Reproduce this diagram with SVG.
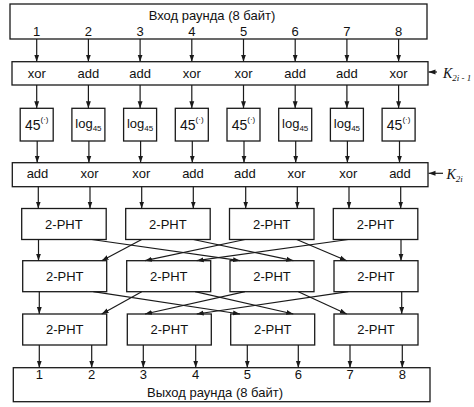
<svg xmlns="http://www.w3.org/2000/svg" width="474" height="407" viewBox="0 0 474 407">
<defs>
<marker id="ah" viewBox="0 0 10 10" refX="10" refY="5" markerWidth="7" markerHeight="7" markerUnits="userSpaceOnUse" orient="auto">
<path d="M0,1.5 L10,5 L0,8.5 z" fill="#1a1a1a"/>
</marker>
<style>
.box{fill:#fff;stroke:#1a1a1a;stroke-width:1.3}
.ln{stroke:#1a1a1a;stroke-width:1.2;fill:none}
.ar{stroke:#1a1a1a;stroke-width:1.2;fill:none;marker-end:url(#ah)}
.t{font-family:"Liberation Sans",Arial,sans-serif;font-size:13px;fill:#111;text-anchor:middle}
.f{font-size:14px}
.k{font-family:"Liberation Serif","Times New Roman",serif;font-style:italic;font-size:14px;fill:#111}
</style>
</defs>
<rect width="474" height="407" fill="#fff"/>

<g id="input">
<rect class="box" x="10" y="4" width="417" height="35"/>
<text class="t" x="212" y="20">Вход раунда (8 байт)</text>
<text class="t" x="36.7" y="35.5">1</text>
<text class="t" x="88.4" y="35.5">2</text>
<text class="t" x="140.1" y="35.5">3</text>
<text class="t" x="191.8" y="35.5">4</text>
<text class="t" x="243.5" y="35.5">5</text>
<text class="t" x="295.2" y="35.5">6</text>
<text class="t" x="346.9" y="35.5">7</text>
<text class="t" x="398.6" y="35.5">8</text>
</g>

<g id="keymix1">
<rect class="box" x="12" y="61.7" width="416" height="23.3"/>
<text class="t" x="36.7" y="78.3">xor</text>
<text class="t" x="88.4" y="78.3">add</text>
<text class="t" x="140.1" y="78.3">add</text>
<text class="t" x="191.8" y="78.3">xor</text>
<text class="t" x="243.5" y="78.3">xor</text>
<text class="t" x="295.2" y="78.3">add</text>
<text class="t" x="346.9" y="78.3">add</text>
<text class="t" x="398.6" y="78.3">xor</text>
</g>
<g id="key1">
<text class="k" x="443" y="77.5">K<tspan dy="3" font-size="9">2i - 1</tspan></text>
</g>

<g id="sbox1"><rect class="box" x="20.2" y="108.3" width="33" height="32.7"/><text class="t f" x="36.7" y="129.5">45<tspan dy="-7.5" font-size="8">(·)</tspan></text></g>
<g id="sbox2"><rect class="box" x="71.9" y="108.3" width="33" height="32.7"/><text class="t" x="88.4" y="128.3">log<tspan dy="2.5" font-size="8">45</tspan></text></g>
<g id="sbox3"><rect class="box" x="123.6" y="108.3" width="33" height="32.7"/><text class="t" x="140.1" y="128.3">log<tspan dy="2.5" font-size="8">45</tspan></text></g>
<g id="sbox4"><rect class="box" x="175.3" y="108.3" width="33" height="32.7"/><text class="t f" x="191.8" y="129.5">45<tspan dy="-7.5" font-size="8">(·)</tspan></text></g>
<g id="sbox5"><rect class="box" x="227" y="108.3" width="33" height="32.7"/><text class="t f" x="243.5" y="129.5">45<tspan dy="-7.5" font-size="8">(·)</tspan></text></g>
<g id="sbox6"><rect class="box" x="278.7" y="108.3" width="33" height="32.7"/><text class="t" x="295.2" y="128.3">log<tspan dy="2.5" font-size="8">45</tspan></text></g>
<g id="sbox7"><rect class="box" x="330.4" y="108.3" width="33" height="32.7"/><text class="t" x="346.9" y="128.3">log<tspan dy="2.5" font-size="8">45</tspan></text></g>
<g id="sbox8"><rect class="box" x="382.1" y="108.3" width="33" height="32.7"/><text class="t f" x="398.6" y="129.5">45<tspan dy="-7.5" font-size="8">(·)</tspan></text></g>

<g id="keymix2">
<rect class="box" x="12.3" y="162.7" width="415.7" height="24"/>
<text class="t" x="37.5" y="178">add</text>
<text class="t" x="89.5" y="178">xor</text>
<text class="t" x="141.3" y="178">xor</text>
<text class="t" x="193" y="178">add</text>
<text class="t" x="244.8" y="178">add</text>
<text class="t" x="296.5" y="178">xor</text>
<text class="t" x="348.2" y="178">xor</text>
<text class="t" x="400" y="178">add</text>
</g>
<g id="key2">
<text class="k" x="446.5" y="178.5">K<tspan dy="3" font-size="9">2i</tspan></text>
</g>

<g id="pht11"><rect class="box" x="21.7" y="208.5" width="84.5" height="31"/><text class="t" x="63.9" y="228.5">2-PHT</text></g>
<g id="pht12"><rect class="box" x="125.7" y="208.5" width="84.5" height="31"/><text class="t" x="167.9" y="228.5">2-PHT</text></g>
<g id="pht13"><rect class="box" x="229.5" y="208.5" width="84.5" height="31"/><text class="t" x="271.7" y="228.5">2-PHT</text></g>
<g id="pht14"><rect class="box" x="333.3" y="208.5" width="84.5" height="31"/><text class="t" x="375.5" y="228.5">2-PHT</text></g>

<g id="pht21"><rect class="box" x="22.7" y="260.7" width="84" height="31"/><text class="t" x="64.7" y="280.7">2-PHT</text></g>
<g id="pht22"><rect class="box" x="126.7" y="260.7" width="84" height="31"/><text class="t" x="168.7" y="280.7">2-PHT</text></g>
<g id="pht23"><rect class="box" x="230" y="260.7" width="84" height="31"/><text class="t" x="272" y="280.7">2-PHT</text></g>
<g id="pht24"><rect class="box" x="334" y="260.7" width="84" height="31"/><text class="t" x="376" y="280.7">2-PHT</text></g>

<g id="pht31"><rect class="box" x="22.7" y="314" width="84" height="31"/><text class="t" x="64.7" y="334">2-PHT</text></g>
<g id="pht32"><rect class="box" x="127.3" y="314" width="84" height="31"/><text class="t" x="169.3" y="334">2-PHT</text></g>
<g id="pht33"><rect class="box" x="230.7" y="314" width="84" height="31"/><text class="t" x="272.7" y="334">2-PHT</text></g>
<g id="pht34"><rect class="box" x="334" y="314" width="84" height="31"/><text class="t" x="376" y="334">2-PHT</text></g>

<g id="output">
<rect class="box" x="13.3" y="367.7" width="416.7" height="34"/>
<text class="t" x="39.3" y="378.5">1</text>
<text class="t" x="91.7" y="378.5">2</text>
<text class="t" x="143.3" y="378.5">3</text>
<text class="t" x="195.7" y="378.5">4</text>
<text class="t" x="247.3" y="378.5">5</text>
<text class="t" x="298.3" y="378.5">6</text>
<text class="t" x="350" y="378.5">7</text>
<text class="t" x="402.3" y="378.5">8</text>
<text class="t" x="215" y="396.7">Выход раунда (8 байт)</text>
</g>

<g id="connectors">
<path class="ar" d="M36.7,39 V61.7"/>
<path class="ar" d="M88.4,39 V61.7"/>
<path class="ar" d="M140.1,39 V61.7"/>
<path class="ar" d="M191.8,39 V61.7"/>
<path class="ar" d="M243.5,39 V61.7"/>
<path class="ar" d="M295.2,39 V61.7"/>
<path class="ar" d="M346.9,39 V61.7"/>
<path class="ar" d="M398.6,39 V61.7"/>
<path class="ar" d="M437,72 H428.5"/>

<path class="ar" d="M36.7,85 V108.3"/>
<path class="ar" d="M88.4,85 V108.3"/>
<path class="ar" d="M140.1,85 V108.3"/>
<path class="ar" d="M191.8,85 V108.3"/>
<path class="ar" d="M243.5,85 V108.3"/>
<path class="ar" d="M295.2,85 V108.3"/>
<path class="ar" d="M346.9,85 V108.3"/>
<path class="ar" d="M398.6,85 V108.3"/>

<path class="ar" d="M37.2,141 V162.7"/>
<path class="ar" d="M88.9,141 V162.7"/>
<path class="ar" d="M140.6,141 V162.7"/>
<path class="ar" d="M192.3,141 V162.7"/>
<path class="ar" d="M244,141 V162.7"/>
<path class="ar" d="M295.7,141 V162.7"/>
<path class="ar" d="M347.4,141 V162.7"/>
<path class="ar" d="M399.5,141 V162.7"/>
<path class="ar" d="M443,173.3 H428.5"/>

<path class="ar" d="M38.3,186.7 V208.5"/>
<path class="ar" d="M90,186.7 V208.5"/>
<path class="ar" d="M141.7,186.7 V208.5"/>
<path class="ar" d="M193.3,186.7 V208.5"/>
<path class="ar" d="M245.7,186.7 V208.5"/>
<path class="ar" d="M297.3,186.7 V208.5"/>
<path class="ar" d="M349,186.7 V208.5"/>
<path class="ar" d="M400.7,186.7 V208.5"/>

<path class="ar" d="M38.5,239.5 V260.7"/>
<path class="ar" d="M91.7,239.5 L240,260.7"/>
<path class="ar" d="M141.7,239.5 L101.7,260.7"/>
<path class="ar" d="M193.3,239.5 L293.3,260.7"/>
<path class="ar" d="M245,239.5 L145,260.7"/>
<path class="ar" d="M296.7,239.5 L346.7,260.7"/>
<path class="ar" d="M348.3,239.5 L196.7,260.7"/>
<path class="ar" d="M401,239.5 V260.7"/>

<path class="ar" d="M39.3,291.7 V314"/>
<path class="ar" d="M93.3,291.7 L240,314"/>
<path class="ar" d="M141.7,291.7 L101.7,314"/>
<path class="ar" d="M195,291.7 L293.3,314"/>
<path class="ar" d="M245,291.7 L145,314"/>
<path class="ar" d="M298.3,291.7 L346.7,314"/>
<path class="ar" d="M348.3,291.7 L196.7,314"/>
<path class="ar" d="M401.7,291.7 V314"/>

<path class="ar" d="M39.3,345 V367.7"/>
<path class="ar" d="M91.7,345 V367.7"/>
<path class="ar" d="M143.3,345 V367.7"/>
<path class="ar" d="M195.7,345 V367.7"/>
<path class="ar" d="M247.3,345 V367.7"/>
<path class="ar" d="M298.3,345 V367.7"/>
<path class="ar" d="M350,345 V367.7"/>
<path class="ar" d="M402.3,345 V367.7"/>
</g>
</svg>
